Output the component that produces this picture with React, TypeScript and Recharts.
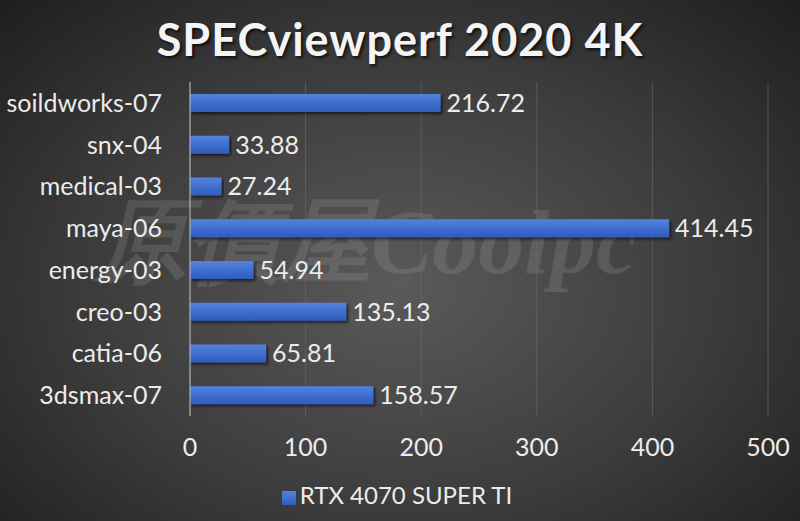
import { Bar, BarChart, CartesianGrid, LabelList, Legend, XAxis, YAxis } from "recharts";

const benchmarks = [
  "soildworks-07",
  "snx-04",
  "medical-03",
  "maya-06",
  "energy-03",
  "creo-03",
  "catia-06",
  "3dsmax-07",
];
const scores = [216.72, 33.88, 27.24, 414.45, 54.94, 135.13, 65.81, 158.57];
const xTicks = [0, 100, 200, 300, 400, 500];
const seriesName = "RTX 4070 SUPER TI";

const data = benchmarks.map((name, i) => ({ name, score: scores[i] }));

const font = "Lato, 'Open Sans', sans-serif";
const textColor = "#ececec";

export default function App() {
  return (
    <div
      style={{
        position: "absolute",
        left: 0,
        top: 0,
        width: 800,
        height: 521,
        background: "radial-gradient(ellipse at 50% 55%, #5a5a5a 0%, #3c3c3c 55%, #1e1e1e 100%)",
        fontFamily: font,
        overflow: "hidden",
      }}
    >
      <div
        style={{
          position: "absolute",
          top: 12,
          width: 800,
          textAlign: "center",
          color: "#f4f4f4",
          fontSize: 45,
          fontWeight: 700,
          textShadow: "2px 2px 3px rgba(0,0,0,0.7)",
          letterSpacing: 1,
        }}
      >
        SPECviewperf 2020 4K
      </div>
      <div
        style={{
          position: "absolute",
          left: 95,
          top: 180,
          fontSize: 92,
          fontWeight: 700,
          fontStyle: "italic",
          fontFamily: "'Liberation Serif', serif",
          color: "rgba(170,170,170,0.2)",
          pointerEvents: "none",
          whiteSpace: "nowrap",
        }}
      >
        原價屋Coolpc
      </div>
      <BarChart
        width={800}
        height={521}
        data={data}
        layout="vertical"
        margin={{ top: 82, right: 32, bottom: 0, left: 0 }}
        barSize={18}
        style={{ position: "absolute", left: 0, top: 0 }}
      >
        <defs>
          <linearGradient id="barGrad" x1="0" y1="0" x2="0" y2="1">
            <stop offset="0%" stopColor="#5283e0" />
            <stop offset="100%" stopColor="#2f5bbd" />
          </linearGradient>
          <filter id="barShadow" x="-5%" y="-30%" width="110%" height="180%">
            <feDropShadow dx="2" dy="2" stdDeviation="1.5" floodColor="#000" floodOpacity="0.6" />
          </filter>
        </defs>
        <CartesianGrid horizontal={false} stroke="#6a6a6a" strokeOpacity={0.6} />
        <XAxis
          type="number"
          domain={[0, 500]}
          ticks={xTicks}
          axisLine={false}
          tickLine={false}
          tick={{ fill: textColor, fontSize: 25, fontFamily: font }}
          tickMargin={16}
          height={72}
        />
        <YAxis
          type="category"
          dataKey="name"
          width={190}
          axisLine={{ stroke: "#bdbdbd" }}
          tickLine={false}
          tick={{ fill: textColor, fontSize: 25, fontFamily: font }}
          tickMargin={22}
        />
        <Legend
          verticalAlign="bottom"
          align="center"
          iconType="square"
          iconSize={14}
          wrapperStyle={{ fontSize: 24, fontFamily: font, bottom: 12, paddingLeft: 18, paddingTop: 4 }}
          formatter={(v) => <span style={{ color: textColor }}>{v}</span>}
        />
        <Bar
          dataKey="score"
          name={seriesName}
          fill="url(#barGrad)"
          filter="url(#barShadow)"
          isAnimationActive={false}
        >
          <LabelList
            dataKey="score"
            position="right"
            offset={6}
            fill={textColor}
            fontSize={25}
            fontFamily={font}
            formatter={(v: number) => v.toFixed(2)}
          />
        </Bar>
      </BarChart>
    </div>
  );
}
